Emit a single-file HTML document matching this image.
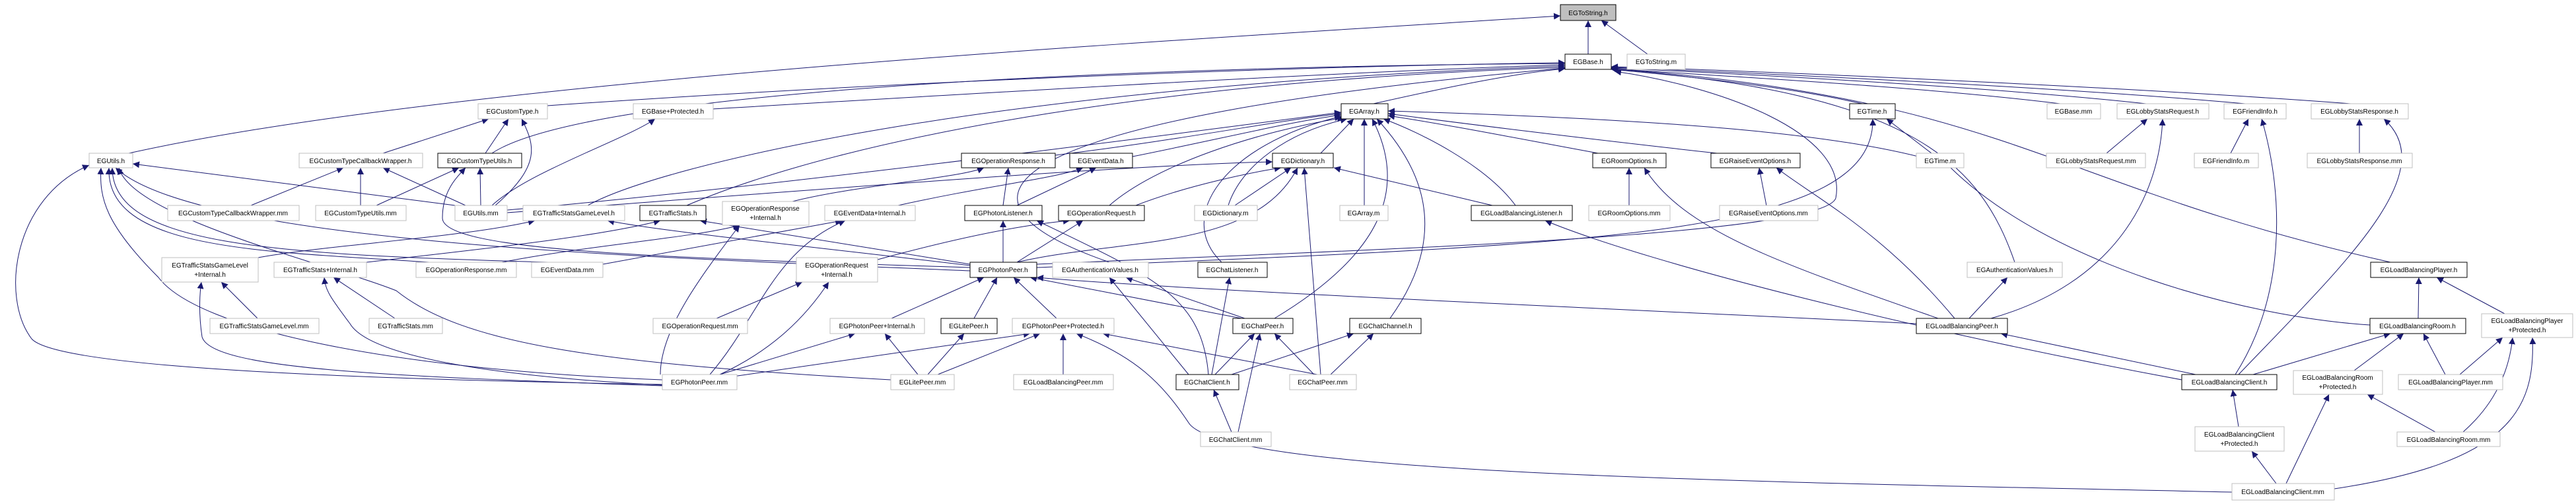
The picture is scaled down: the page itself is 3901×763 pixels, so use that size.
<!DOCTYPE html>
<html><head><meta charset="utf-8"><style>
html,body{margin:0;padding:0;background:#fff;}
svg{display:block;}
text{font-family:"Liberation Sans",sans-serif;font-size:10px;fill:#000;text-anchor:middle;}
.e{fill:none;stroke:#191970;stroke-width:1;marker-end:url(#a);}
.n{fill:#fff;stroke:#bfbfbf;stroke-width:1;}
.b{fill:#fff;stroke:#000;stroke-width:1;}
</style></head><body>
<svg width="3901" height="763" viewBox="0 0 3901 763" xmlns="http://www.w3.org/2000/svg">
<defs><marker id="a" viewBox="0 0 10 10" markerUnits="userSpaceOnUse" markerWidth="10" markerHeight="10" refX="10" refY="5" orient="auto"><path d="M0,0 L10,5 L0,10 z" fill="#191970"/></marker></defs>
<g>
<path class="e" d="M2405 82 L2405 31"/>
<path class="e" d="M2495 82 L2425 31"/>
<path class="e" d="M195 232 C700 120,1800 60,2363 24"/>
<path class="e" d="M829 160 C1400 120,2000 100,2370 95"/>
<path class="e" d="M1080 165 C1500 140,2000 110,2370 98"/>
<path class="e" d="M745 232 C900 130,1800 100,2370 96"/>
<path class="e" d="M745 311 C800 260,950 210,992 180"/>
<path class="e" d="M890 311 C1000 250,1500 130,2370 100"/>
<path class="e" d="M1040 311 C1300 200,1800 120,2370 102"/>
<path class="e" d="M2080 157 C2200 130,2300 110,2370 104"/>
<path class="e" d="M1680 397 C1400 300,1500 180,2370 103"/>
<path class="e" d="M2820 157 C2700 130,2550 115,2440 105"/>
<path class="e" d="M3120 157 C2900 130,2600 115,2440 104"/>
<path class="e" d="M3250 157 C3000 130,2600 110,2440 103"/>
<path class="e" d="M3400 157 C3100 130,2600 108,2440 102"/>
<path class="e" d="M3560 157 C3200 130,2600 105,2440 101"/>
<path class="e" d="M3620 397 C3100 280,3050 150,2440 104"/>
<path class="e" d="M3051 397 C3000 250,2900 140,2440 105"/>
<path class="e" d="M1570 400 C2000 380,2760 360,2780 300 C2800 200,2600 130,2445 108"/>
<path class="e" d="M768 318 C1200 280,1800 200,2031 170"/>
<path class="e" d="M1598 235 C1800 210,1950 180,2031 172"/>
<path class="e" d="M1715 237 C1850 210,1950 185,2031 174"/>
<path class="e" d="M2000 232 L2050 180"/>
<path class="e" d="M1680 311 C1750 250,1900 200,2035 178"/>
<path class="e" d="M1860 311 C1880 250,1950 200,2040 180"/>
<path class="e" d="M2066 311 L2066 180"/>
<path class="e" d="M2295 311 C2250 250,2150 200,2095 180"/>
<path class="e" d="M2105 482 C2200 350,2150 250,2085 180"/>
<path class="e" d="M1930 482 C2100 380,2130 280,2078 180"/>
<path class="e" d="M1850 397 C1780 330,1850 220,2031 176"/>
<path class="e" d="M2420 232 C2300 210,2200 190,2102 175"/>
<path class="e" d="M2600 232 C2400 210,2200 185,2102 172"/>
<path class="e" d="M3589 492 C3400 480,3100 400,2950 250 C2800 200,2500 180,2102 168"/>
<path class="e" d="M768 322 C1200 290,1700 250,1927 245"/>
<path class="e" d="M1720 311 C1800 280,1900 260,1940 254"/>
<path class="e" d="M1870 311 L1955 254"/>
<path class="e" d="M1540 397 C1700 360,1900 380,1965 254"/>
<path class="e" d="M2000 567 L1975 254"/>
<path class="e" d="M2260 311 L2020 254"/>
<path class="e" d="M1200 305 C1300 280,1450 270,1490 254"/>
<path class="e" d="M1519 311 L1527 254"/>
<path class="e" d="M1360 311 C1500 280,1600 270,1640 254"/>
<path class="e" d="M1540 311 L1660 254"/>
<path class="e" d="M1519 397 L1519 334"/>
<path class="e" d="M1830 567 C1820 450,1750 420,1570 334"/>
<path class="e" d="M1329 393 C1450 360,1550 340,1620 334"/>
<path class="e" d="M1540 397 L1640 334"/>
<path class="e" d="M391 390 C500 370,700 360,810 334"/>
<path class="e" d="M1469 402 C1200 370,1000 350,920 334"/>
<path class="e" d="M555 397 C700 380,900 360,1000 334"/>
<path class="e" d="M1469 400 L1060 334"/>
<path class="e" d="M689 311 L201 248"/>
<path class="e" d="M1003 582 C600 575,90 560,48 513 C0 450,20 300,135 250"/>
<path class="e" d="M1003 575 C600 560,300 500,240 420 C160 340,150 300,153 254"/>
<path class="e" d="M650 397 C400 380,160 380,165 254"/>
<path class="e" d="M830 397 C400 385,170 370,170 254"/>
<path class="e" d="M1469 410 C1000 390,300 370,175 254"/>
<path class="e" d="M1349 575 C900 550,700 520,600 440 C500 400,200 330,180 254"/>
<path class="e" d="M580 232 L740 180"/>
<path class="e" d="M735 232 L770 180"/>
<path class="e" d="M750 311 C820 250,810 220,790 180"/>
<path class="e" d="M380 311 L520 254"/>
<path class="e" d="M546 311 L546 254"/>
<path class="e" d="M705 311 L580 254"/>
<path class="e" d="M570 311 L695 254"/>
<path class="e" d="M728 311 L727 254"/>
<path class="e" d="M1469 405 C1000 390,670 380,670 330 C670 290,690 270,705 254"/>
<path class="e" d="M760 397 C900 370,1050 360,1120 341"/>
<path class="e" d="M1000 567 C1000 500,1060 420,1120 341"/>
<path class="e" d="M913 400 L1275 334"/>
<path class="e" d="M1075 567 C1150 480,1170 380,1280 334"/>
<path class="e" d="M1085 482 L1215 427"/>
<path class="e" d="M1090 567 C1170 530,1220 480,1255 427"/>
<path class="e" d="M1350 482 L1490 420"/>
<path class="e" d="M1475 482 L1510 420"/>
<path class="e" d="M1600 482 L1535 420"/>
<path class="e" d="M1880 482 L1560 420"/>
<path class="e" d="M2902 490 C2500 470,1800 440,1570 420"/>
<path class="e" d="M1800 567 L1680 420"/>
<path class="e" d="M1885 482 L1705 420"/>
<path class="e" d="M1835 567 L1862 420"/>
<path class="e" d="M1840 567 L1900 505"/>
<path class="e" d="M1875 654 L1908 505"/>
<path class="e" d="M1990 567 L1930 505"/>
<path class="e" d="M1865 567 L2050 505"/>
<path class="e" d="M2015 567 L2080 505"/>
<path class="e" d="M1865 654 L1838 590"/>
<path class="e" d="M1090 567 L1295 505"/>
<path class="e" d="M1390 567 L1340 505"/>
<path class="e" d="M1405 567 L1460 505"/>
<path class="e" d="M1110 570 L1560 505"/>
<path class="e" d="M1420 567 L1575 505"/>
<path class="e" d="M1610 567 L1610 505"/>
<path class="e" d="M1995 567 L1670 505"/>
<path class="e" d="M3380 745 C2700 730,1850 720,1800 640 C1760 580,1720 540,1630 505"/>
<path class="e" d="M390 482 L335 427"/>
<path class="e" d="M1003 584 C600 570,320 560,306 510 C300 470,303 440,305 427"/>
<path class="e" d="M598 482 L505 420"/>
<path class="e" d="M1003 583 C750 570,560 540,530 490 C500 450,493 440,491 420"/>
<path class="e" d="M3325 567 L3030 505"/>
<path class="e" d="M2982 482 L3040 420"/>
<path class="e" d="M3015 482 C3200 430,3270 300,3275 180"/>
<path class="e" d="M2935 482 C2700 400,2550 350,2490 254"/>
<path class="e" d="M2467 311 L2467 254"/>
<path class="e" d="M2960 482 C2850 350,2750 300,2690 254"/>
<path class="e" d="M2675 311 L2664 254"/>
<path class="e" d="M2925 232 L2857 180"/>
<path class="e" d="M1570 405 C2400 370,2840 360,2836 180"/>
<path class="e" d="M3304 575 C2900 500,2500 400,2340 334"/>
<path class="e" d="M3190 232 L3252 180"/>
<path class="e" d="M3378 232 L3405 180"/>
<path class="e" d="M3385 567 C3460 450,3460 300,3425 180"/>
<path class="e" d="M3573 232 L3573 180"/>
<path class="e" d="M3390 567 C3550 400,3700 260,3610 180"/>
<path class="e" d="M3662 482 L3663 420"/>
<path class="e" d="M3793 475 L3690 420"/>
<path class="e" d="M3412 567 L3620 505"/>
<path class="e" d="M3565 561 L3640 505"/>
<path class="e" d="M3703 567 L3670 505"/>
<path class="e" d="M3725 567 L3790 511"/>
<path class="e" d="M3730 654 C3780 610,3800 560,3805 511"/>
<path class="e" d="M3535 740 C3800 700,3840 620,3835 511"/>
<path class="e" d="M3390 646 L3381 590"/>
<path class="e" d="M3447 732 L3410 683"/>
<path class="e" d="M3462 732 L3527 597"/>
<path class="e" d="M3688 654 L3585 597"/>
</g>
<g>
<rect x="2363" y="7" width="84" height="24" fill="#bfbfbf" stroke="#000"/><text x="2405" y="23">EGToString.h</text>
<rect class="b" x="2370" y="82" width="70" height="23"/><text x="2405" y="97">EGBase.h</text>
<rect class="n" x="2464" y="82" width="88" height="23"/><text x="2508" y="97">EGToString.m</text>
<rect class="n" x="724" y="157" width="105" height="23"/><text x="776" y="172">EGCustomType.h</text>
<rect class="n" x="959" y="157" width="121" height="23"/><text x="1019" y="172">EGBase+Protected.h</text>
<rect class="b" x="2031" y="157" width="71" height="23"/><text x="2066" y="172">EGArray.h</text>
<rect class="b" x="2801" y="157" width="69" height="23"/><text x="2835" y="172">EGTime.h</text>
<rect class="n" x="3100" y="157" width="81" height="23"/><text x="3140" y="172">EGBase.mm</text>
<rect class="n" x="3206" y="157" width="139" height="23"/><text x="3275" y="172">EGLobbyStatsRequest.h</text>
<rect class="n" x="3368" y="157" width="94" height="23"/><text x="3415" y="172">EGFriendInfo.h</text>
<rect class="n" x="3500" y="157" width="147" height="23"/><text x="3573" y="172">EGLobbyStatsResponse.h</text>
<rect class="n" x="135" y="232" width="66" height="22"/><text x="168" y="247">EGUtils.h</text>
<rect class="n" x="453" y="232" width="187" height="22"/><text x="546" y="247">EGCustomTypeCallbackWrapper.h</text>
<rect class="b" x="663" y="232" width="127" height="22"/><text x="726" y="247">EGCustomTypeUtils.h</text>
<rect class="b" x="1456" y="232" width="142" height="22"/><text x="1527" y="247">EGOperationResponse.h</text>
<rect class="b" x="1620" y="232" width="95" height="22"/><text x="1667" y="247">EGEventData.h</text>
<rect class="b" x="1927" y="232" width="92" height="22"/><text x="1973" y="247">EGDictionary.h</text>
<rect class="b" x="2412" y="232" width="111" height="22"/><text x="2467" y="247">EGRoomOptions.h</text>
<rect class="b" x="2591" y="232" width="135" height="22"/><text x="2658" y="247">EGRaiseEventOptions.h</text>
<rect class="n" x="2902" y="232" width="72" height="22"/><text x="2938" y="247">EGTime.m</text>
<rect class="n" x="3099" y="232" width="150" height="22"/><text x="3174" y="247">EGLobbyStatsRequest.mm</text>
<rect class="n" x="3323" y="232" width="97" height="22"/><text x="3371" y="247">EGFriendInfo.m</text>
<rect class="n" x="3494" y="232" width="159" height="22"/><text x="3573" y="247">EGLobbyStatsResponse.mm</text>
<rect class="n" x="254" y="311" width="199" height="23"/><text x="353" y="326">EGCustomTypeCallbackWrapper.mm</text>
<rect class="n" x="478" y="311" width="137" height="23"/><text x="546" y="326">EGCustomTypeUtils.mm</text>
<rect class="n" x="689" y="311" width="79" height="23"/><text x="728" y="326">EGUtils.mm</text>
<rect class="n" x="792" y="311" width="154" height="23"/><text x="869" y="326">EGTrafficStatsGameLevel.h</text>
<rect class="b" x="969" y="311" width="100" height="23"/><text x="1019" y="326">EGTrafficStats.h</text>
<rect class="n" x="1094" y="305" width="131" height="36"/><text x="1159" y="319">EGOperationResponse</text><text x="1159" y="333">+Internal.h</text>
<rect class="n" x="1249" y="311" width="137" height="23"/><text x="1317" y="326">EGEventData+Internal.h</text>
<rect class="b" x="1461" y="311" width="117" height="23"/><text x="1519" y="326">EGPhotonListener.h</text>
<rect class="b" x="1603" y="311" width="130" height="23"/><text x="1668" y="326">EGOperationRequest.h</text>
<rect class="n" x="1809" y="311" width="95" height="23"/><text x="1856" y="326">EGDictionary.m</text>
<rect class="n" x="2029" y="311" width="73" height="23"/><text x="2065" y="326">EGArray.m</text>
<rect class="b" x="2228" y="311" width="153" height="23"/><text x="2304" y="326">EGLoadBalancingListener.h</text>
<rect class="n" x="2406" y="311" width="123" height="23"/><text x="2467" y="326">EGRoomOptions.mm</text>
<rect class="n" x="2604" y="311" width="149" height="23"/><text x="2678" y="326">EGRaiseEventOptions.mm</text>
<rect class="n" x="245" y="390" width="146" height="37"/><text x="318" y="405">EGTrafficStatsGameLevel</text><text x="318" y="419">+Internal.h</text>
<rect class="n" x="415" y="397" width="140" height="23"/><text x="485" y="412">EGTrafficStats+Internal.h</text>
<rect class="n" x="630" y="397" width="152" height="23"/><text x="706" y="412">EGOperationResponse.mm</text>
<rect class="n" x="805" y="397" width="108" height="23"/><text x="859" y="412">EGEventData.mm</text>
<rect class="n" x="1206" y="390" width="123" height="37"/><text x="1267" y="405">EGOperationRequest</text><text x="1267" y="419">+Internal.h</text>
<rect class="b" x="1469" y="397" width="101" height="23"/><text x="1519" y="412">EGPhotonPeer.h</text>
<rect class="n" x="1594" y="397" width="145" height="23"/><text x="1666" y="412">EGAuthenticationValues.h</text>
<rect class="b" x="1814" y="397" width="105" height="23"/><text x="1866" y="412">EGChatListener.h</text>
<rect class="n" x="2979" y="397" width="144" height="23"/><text x="3051" y="412">EGAuthenticationValues.h</text>
<rect class="b" x="3590" y="397" width="146" height="23"/><text x="3663" y="412">EGLoadBalancingPlayer.h</text>
<rect class="n" x="318" y="482" width="165" height="23"/><text x="400" y="497">EGTrafficStatsGameLevel.mm</text>
<rect class="n" x="559" y="482" width="111" height="23"/><text x="614" y="497">EGTrafficStats.mm</text>
<rect class="n" x="989" y="482" width="143" height="23"/><text x="1060" y="497">EGOperationRequest.mm</text>
<rect class="n" x="1257" y="482" width="143" height="23"/><text x="1328" y="497">EGPhotonPeer+Internal.h</text>
<rect class="b" x="1425" y="482" width="85" height="23"/><text x="1467" y="497">EGLitePeer.h</text>
<rect class="n" x="1533" y="482" width="154" height="23"/><text x="1610" y="497">EGPhotonPeer+Protected.h</text>
<rect class="b" x="1867" y="482" width="91" height="23"/><text x="1912" y="497">EGChatPeer.h</text>
<rect class="b" x="2044" y="482" width="108" height="23"/><text x="2098" y="497">EGChatChannel.h</text>
<rect class="b" x="2902" y="482" width="138" height="23"/><text x="2971" y="497">EGLoadBalancingPeer.h</text>
<rect class="b" x="3589" y="482" width="145" height="23"/><text x="3661" y="497">EGLoadBalancingRoom.h</text>
<rect class="n" x="3758" y="475" width="138" height="36"/><text x="3827" y="489">EGLoadBalancingPlayer</text><text x="3827" y="503">+Protected.h</text>
<rect class="n" x="1003" y="567" width="113" height="23"/><text x="1059" y="582">EGPhotonPeer.mm</text>
<rect class="n" x="1349" y="567" width="96" height="23"/><text x="1397" y="582">EGLitePeer.mm</text>
<rect class="n" x="1535" y="567" width="151" height="23"/><text x="1610" y="582">EGLoadBalancingPeer.mm</text>
<rect class="b" x="1781" y="567" width="95" height="23"/><text x="1828" y="582">EGChatClient.h</text>
<rect class="n" x="1953" y="567" width="101" height="23"/><text x="2003" y="582">EGChatPeer.mm</text>
<rect class="b" x="3304" y="567" width="144" height="23"/><text x="3376" y="582">EGLoadBalancingClient.h</text>
<rect class="n" x="3473" y="561" width="135" height="36"/><text x="3540" y="575">EGLoadBalancingRoom</text><text x="3540" y="589">+Protected.h</text>
<rect class="n" x="3632" y="567" width="158" height="23"/><text x="3711" y="582">EGLoadBalancingPlayer.mm</text>
<rect class="n" x="1818" y="654" width="107" height="22"/><text x="1871" y="669">EGChatClient.mm</text>
<rect class="n" x="3324" y="646" width="135" height="37"/><text x="3391" y="661">EGLoadBalancingClient</text><text x="3391" y="675">+Protected.h</text>
<rect class="n" x="3630" y="654" width="156" height="22"/><text x="3708" y="669">EGLoadBalancingRoom.mm</text>
<rect class="n" x="3380" y="732" width="155" height="25"/><text x="3457" y="748">EGLoadBalancingClient.mm</text>
</g>
</svg>
</body></html>
